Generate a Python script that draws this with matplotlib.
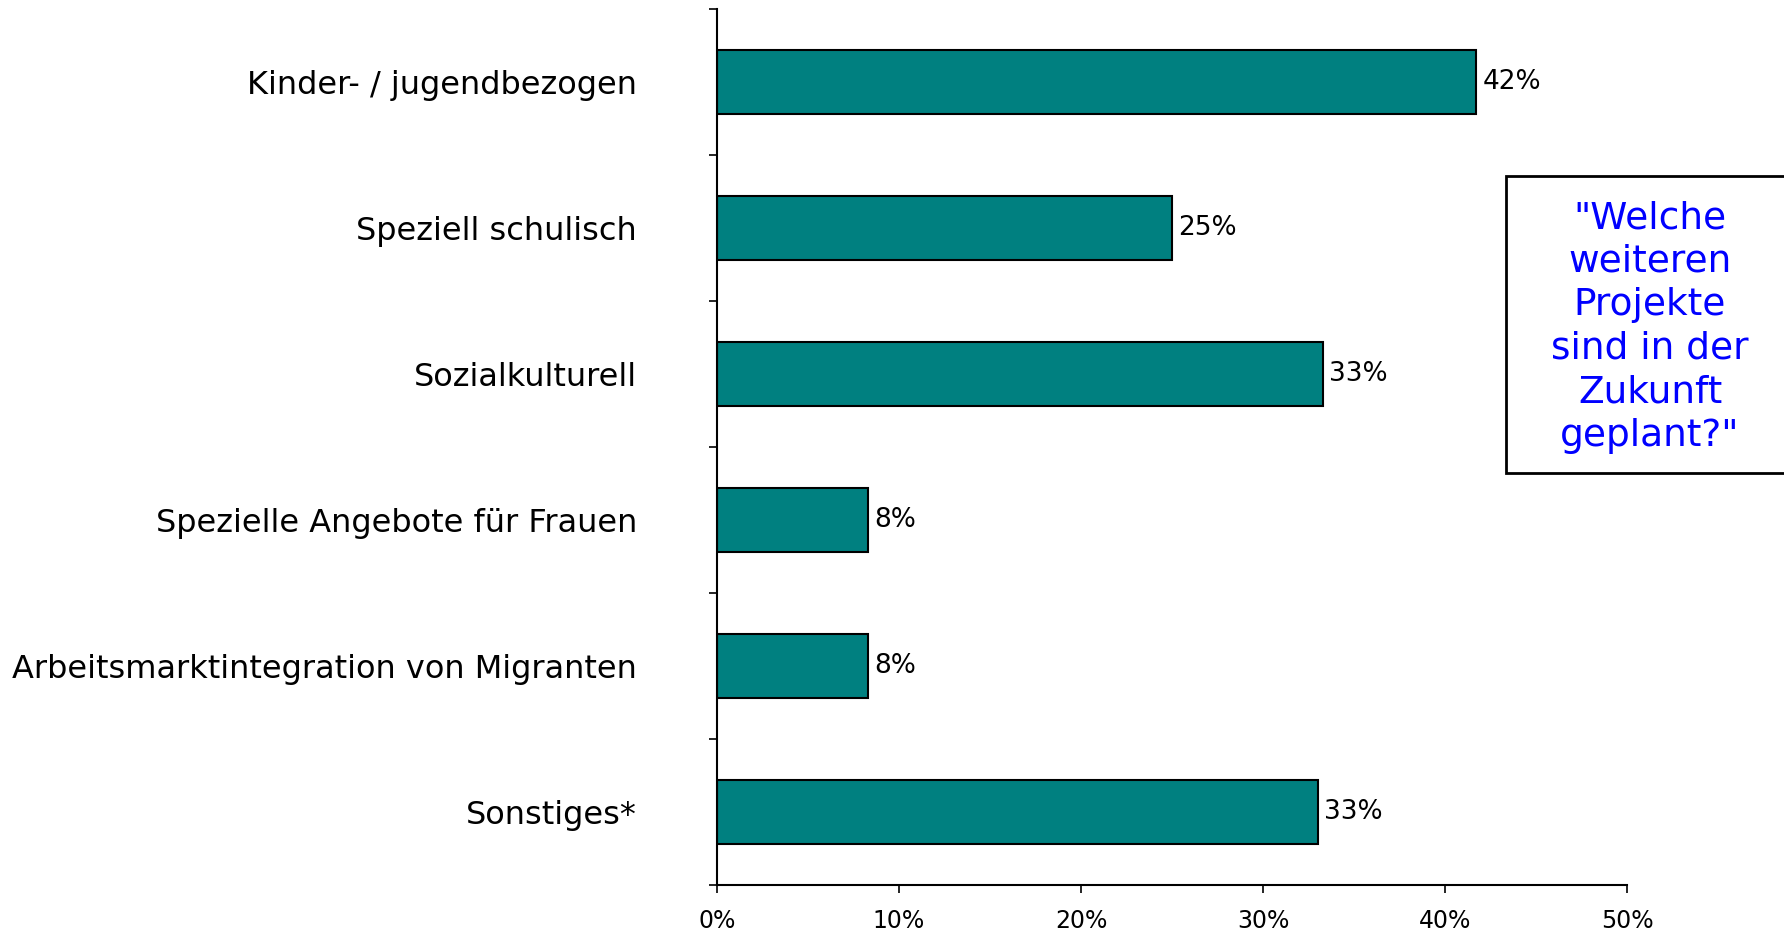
import matplotlib
matplotlib.use("Agg")
import matplotlib.pyplot as plt
from matplotlib.patches import Rectangle

categories = ["Kinder- / jugendbezogen", "Speziell schulisch", "Sozialkulturell",
              "Spezielle Angebote für Frauen", "Arbeitsmarktintegration von Migranten",
              "Sonstiges*"]
values = [41.7, 25.0, 33.3, 8.3, 8.3, 33.0]
value_labels = ["42%", "25%", "33%", "8%", "8%", "33%"]
xticks = [0, 10, 20, 30, 40, 50]
xtick_labels = ["0%", "10%", "20%", "30%", "40%", "50%"]
box_text = '"Welche\nweiteren\nProjekte\nsind in der\nZukunft\ngeplant?"'

plt.rcParams['font.family'] = ['DejaVu Sans']
fig = plt.figure(figsize=(17.84, 9.31), dpi=100)
ax = fig.add_axes([717/1784, 1-885/931, (1627-717)/1784, (885-9)/931])

n = len(categories)
ypos = list(range(n))
ax.barh(ypos, values, height=0.44, color="#008080", edgecolor="black", linewidth=1.5)
ax.set_ylim(n - 0.5, -0.5)
ax.set_xlim(0, 50)

for y, v, lab in zip(ypos, values, value_labels):
    ax.text(v + 0.35, y, lab, va="center", ha="left", fontsize=19)

ax.set_yticks(ypos)
ax.set_yticklabels(categories, fontsize=23)
ax.tick_params(axis="y", which="major", length=0, pad=57.6)
ax.set_yticks([i - 0.5 for i in range(n + 1)], minor=True)
ax.tick_params(axis="y", which="minor", length=6, width=1.2, direction="out")

ax.set_xticks(xticks)
ax.set_xticklabels(xtick_labels, fontsize=17)
ax.tick_params(axis="x", length=6, width=1.2, direction="out", pad=11)

for s in ["top", "right"]:
    ax.spines[s].set_visible(False)
ax.spines["left"].set_linewidth(1.5)
ax.spines["bottom"].set_linewidth(1.5)

rect = Rectangle((1506/1784, 1-473/931), 0.2, (473-176)/931, transform=fig.transFigure,
                 facecolor="white", edgecolor="black", linewidth=2, clip_on=False)
fig.patches.append(rect)
fig.text(1650/1784, 1-327/931, box_text, ha="center", va="center", color="#0000FF",
         fontsize=27, linespacing=1.27)

fig.savefig("out.png", dpi=100)
